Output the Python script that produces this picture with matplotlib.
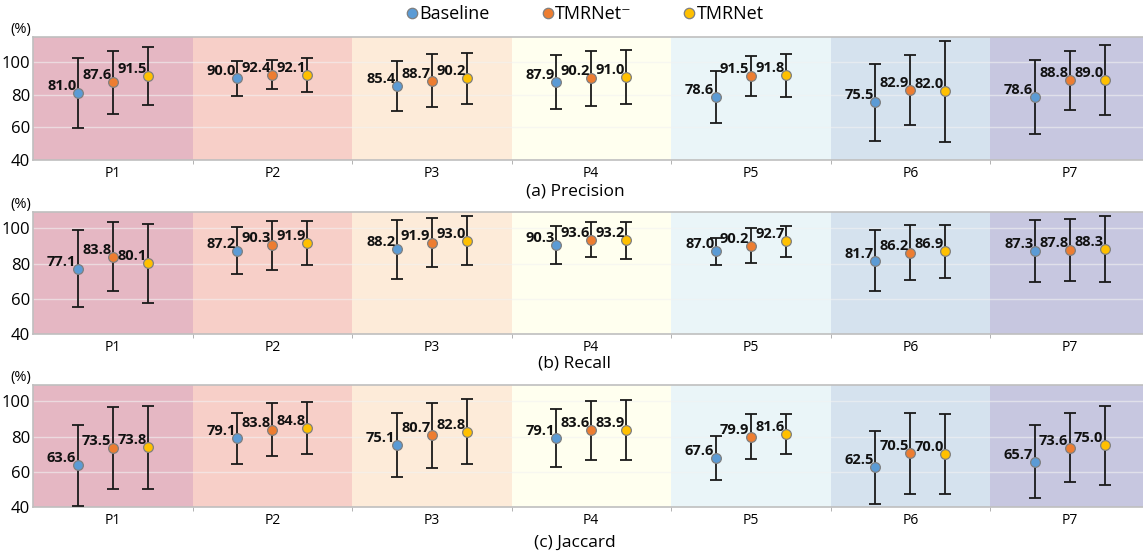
import matplotlib
matplotlib.use("Agg")
import matplotlib.pyplot as plt
from matplotlib.lines import Line2D
import numpy as np

plt.rcParams['font.family'] = ['Open Sans', 'DejaVu Sans']

# data
categories = ['P1', 'P2', 'P3', 'P4', 'P5', 'P6', 'P7']
methods = ['Baseline', 'TMRNet\u207b', 'TMRNet']

precision_mean = [[81.0, 90.0, 85.4, 87.9, 78.6, 75.5, 78.6],
                  [87.6, 92.4, 88.7, 90.2, 91.5, 82.9, 88.8],
                  [91.5, 92.1, 90.2, 91.0, 91.8, 82.0, 89.0]]
precision_std = [[21.3, 10.5, 15.4, 16.6, 16.1, 23.6, 22.8],
                 [19.5, 9.0, 16.0, 16.8, 12.0, 21.2, 18.3],
                 [17.6, 10.3, 15.6, 16.7, 13.1, 30.9, 21.3]]

recall_mean = [[77.1, 87.2, 88.2, 90.3, 87.0, 81.7, 87.3],
               [83.8, 90.3, 91.9, 93.6, 90.2, 86.2, 87.8],
               [80.1, 91.9, 93.0, 93.2, 92.7, 86.9, 88.3]]
recall_std = [[21.9, 13.4, 16.8, 10.8, 7.6, 17.1, 17.6],
              [19.6, 14.0, 14.0, 10.0, 10.0, 15.6, 17.7],
              [22.3, 12.5, 13.8, 10.7, 8.7, 15.0, 18.6]]

jaccard_mean = [[63.6, 79.1, 75.1, 79.1, 67.6, 62.5, 65.7],
                [73.5, 83.8, 80.7, 83.6, 79.9, 70.5, 73.6],
                [73.8, 84.8, 82.8, 83.9, 81.6, 70.0, 75.0]]
jaccard_std = [[23.0, 14.4, 18.3, 16.3, 12.5, 20.7, 20.6],
               [23.2, 15.0, 18.3, 16.8, 12.8, 23.0, 19.6],
               [23.7, 14.6, 18.6, 17.0, 11.4, 22.6, 22.3]]

panels = [('(a) Precision', precision_mean, precision_std, 115.4),
          ('(b) Recall', recall_mean, recall_std, 109.3),
          ('(c) Jaccard', jaccard_mean, jaccard_std, 109.3)]

bg_colors = ['#E5B7C3', '#F7CFC8', '#FDEBD9', '#FFFFEF', '#EAF5F8', '#D5E2EE', '#C7C7E0']
marker_colors = ['#5B9BD5', '#ED7D31', '#FFC000']
offsets = [-0.22, 0, 0.22]

fig = plt.figure(figsize=(11.43, 5.55), dpi=100)

# axes boxes in pixels: (top, bottom)
boxes = [(37, 160), (212, 334), (385, 507)]
caption_y = [192, 364, 543]
W, H = 1143, 555
x0, x1 = 33, 1149.5

for k, (title, means, stds, ytop) in enumerate(panels):
    top, bot = boxes[k]
    ax = fig.add_axes([x0 / W, 1 - bot / H, (x1 - x0) / W, (bot - top) / H])
    x = np.arange(len(categories))

    for i, c in enumerate(bg_colors):
        ax.axvspan(i - 0.5, i + 0.5, color=c, lw=0, zorder=0)

    for j in range(3):
        xs = x + offsets[j]
        ax.errorbar(xs, means[j], yerr=stds[j], fmt='none', ecolor='#1a1a1a',
                    elinewidth=1.3, capsize=4, capthick=1.3, zorder=3)
        ax.plot(xs, means[j], 'o', ms=7, mfc=marker_colors[j], mec='#7f7f7f',
                mew=0.9, zorder=4)
        for xi, m in zip(xs, means[j]):
            ax.annotate('%.1f' % m, (xi, m), xytext=(-1, 0), textcoords='offset points',
                        ha='right', va='bottom', fontsize=10.5, fontweight='bold',
                        color='#111111', zorder=5)

    ax.set_xlim(-0.5, 6.5)
    ax.set_ylim(40, ytop)
    ax.set_yticks([40, 60, 80, 100])
    ax.set_xticks(x)
    ax.set_xticklabels(categories, fontsize=10)
    ax.set_xticks(np.arange(0.5, 6, 1), minor=True)
    ax.tick_params(axis='x', which='major', length=0, pad=4)
    ax.tick_params(axis='x', which='minor', length=3, color='#a6a6a6')
    ax.tick_params(axis='y', length=0, labelsize=12, pad=2)
    for y in [60, 80, 100]:
        ax.axhline(y, color='#f2f2f2', lw=1, alpha=0.6, zorder=1)
    for s in ['left', 'bottom', 'top']:
        ax.spines[s].set_color('#bfbfbf')
        ax.spines[s].set_linewidth(1.2)
    ax.spines['right'].set_visible(False)
    ax.text(-0.002, 1.0, '(%)', transform=ax.transAxes, ha='right', va='bottom',
            fontsize=10.5)
    fig.text(0.503, 1 - caption_y[k] / H, title, ha='center', va='center', fontsize=12.5)

handles = [Line2D([], [], ls='none', marker='o', ms=7.5, mfc=c, mec='#7f7f7f', mew=0.9)
           for c in marker_colors]
fig.legend(handles, methods, loc='center', bbox_to_anchor=(0.512, 1 - 14 / H), ncol=3,
           frameon=False, fontsize=13, handlelength=0.6, handletextpad=0.1,
           columnspacing=2.9, borderaxespad=0)

fig.savefig('out.png', dpi=100)
